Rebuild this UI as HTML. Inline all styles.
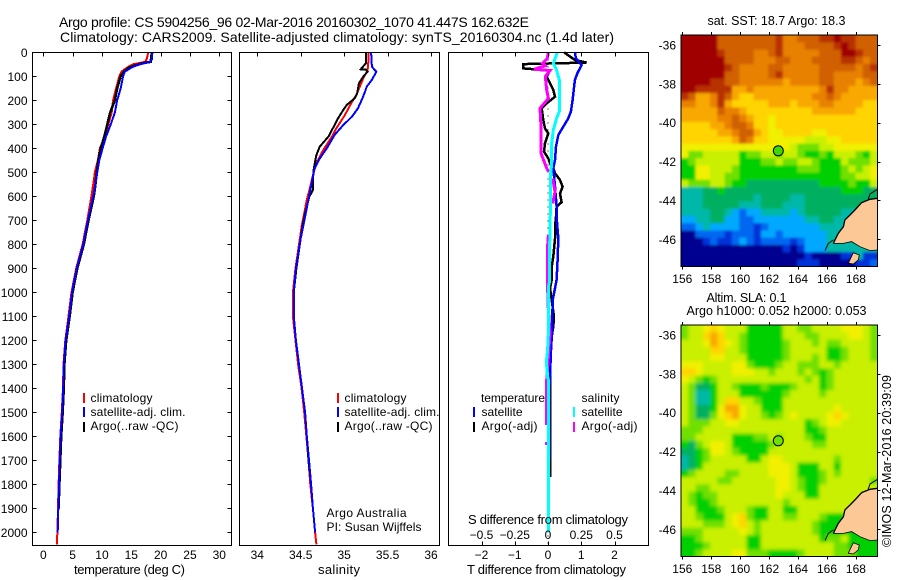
<!DOCTYPE html>
<html>
<head>
<meta charset="utf-8">
<title>Argo profile</title>
<style>
html,body{margin:0;padding:0;background:#fff;}
svg{display:block;}
text{font-family:"Liberation Sans",sans-serif;fill:#000;}
</style>
</head>
<body>
<svg id="chart" xmlns="http://www.w3.org/2000/svg" width="900" height="580" viewBox="0 0 900 580">
<defs>
<filter id="blur-sst" x="-10%" y="-10%" width="120%" height="120%"><feGaussianBlur stdDeviation="1.2"/></filter>
<filter id="blur-sla" x="-10%" y="-10%" width="120%" height="120%"><feGaussianBlur stdDeviation="1.9"/></filter>
<clipPath id="clip-sst"><rect x="681" y="35" width="196.5" height="231.7"/></clipPath>
<clipPath id="clip-sla"><rect x="681" y="325" width="196.5" height="231.7"/></clipPath>
</defs>
<text x="59" y="27" font-size="14" textLength="470">Argo profile: CS 5904256_96 02-Mar-2016 20160302_1070 41.447S 162.632E</text>
<text x="60" y="42" font-size="14" textLength="554">Climatology: CARS2009. Satellite-adjusted climatology: synTS_20160304.nc (1.4d later)</text>

<g id="layer-lines"></g>
<g id="layer-maps"></g>

<rect x="32.5" y="52.5" width="199" height="493" fill="none" stroke="#000" stroke-width="1"/>
<rect x="239.5" y="52.5" width="200" height="493" fill="none" stroke="#000" stroke-width="1"/>
<rect x="448.5" y="52.5" width="200" height="493" fill="none" stroke="#000" stroke-width="1"/>

<text x="74" y="574" font-size="13" textLength="111">temperature (deg C)</text>
<text x="318" y="574" font-size="13" textLength="42">salinity</text>
<text x="467" y="574" font-size="13" textLength="159">T difference from climatology</text>
<text x="468" y="524" font-size="13" textLength="160">S difference from climatology</text>

<g font-size="12">
<rect x="83" y="393" width="2" height="10" fill="#ff0000"/>
<rect x="83" y="407" width="2" height="10" fill="#0000ff"/>
<rect x="83" y="422" width="2" height="10" fill="#000"/>
<text x="90.5" y="402" textLength="62">climatology</text>
<text x="90.5" y="416" textLength="95">satellite-adj. clim.</text>
<text x="90.5" y="430" textLength="88">Argo(..raw -QC)</text>
</g>
<g font-size="12">
<rect x="337" y="393" width="2" height="10" fill="#ff0000"/>
<rect x="337" y="407" width="2" height="10" fill="#0000ff"/>
<rect x="337" y="422" width="2" height="10" fill="#000"/>
<text x="344.5" y="402" textLength="62">climatology</text>
<text x="344.5" y="416" textLength="95">satellite-adj. clim.</text>
<text x="344.5" y="430" textLength="88">Argo(..raw -QC)</text>
<text x="326.5" y="517" textLength="80">Argo Australia</text>
<text x="326.5" y="531" textLength="95">PI: Susan Wijffels</text>
</g>
<g font-size="12">
<text x="481" y="402" textLength="64">temperature</text>
<text x="581.5" y="402" textLength="38">salinity</text>
<rect x="473" y="407" width="2" height="10" fill="#0000ff"/>
<rect x="473" y="422" width="2" height="10" fill="#000"/>
<rect x="573" y="407" width="2" height="10" fill="#00ffff"/>
<rect x="573" y="422" width="2" height="10" fill="#ff00ff"/>
<text x="481.5" y="416" textLength="41">satellite</text>
<text x="481.5" y="430" textLength="56">Argo(-adj)</text>
<text x="581.5" y="416" textLength="41">satellite</text>
<text x="581.5" y="430" textLength="56">Argo(-adj)</text>
</g>

<text x="707.5" y="25" font-size="12.5" textLength="138">sat. SST: 18.7 Argo: 18.3</text>
<text x="706.5" y="302" font-size="12.5" textLength="80">Altim. SLA: 0.1</text>
<text x="686.5" y="315" font-size="12.5" textLength="180">Argo h1000: 0.052 h2000: 0.053</text>
<text transform="translate(891 547) rotate(-90)" font-size="12.5" textLength="172">©IMOS 12-Mar-2016 20:39:09</text>
</svg>

<script>
/* ---------- profile data ---------- */
const depthTicks = [0,100,200,300,400,500,600,700,800,900,1000,1100,1200,1300,1400,1500,1600,1700,1800,1900,2000];
const temperatureTicks = [0,5,10,15,20,25,30];
const salinityTicks = [34,34.5,35,35.5,36];
const tDiffTicks = [-2,-1,0,1,2];
const sDiffTicks = [-0.5,-0.25,0,0.25,0.5];
const sDiffTickLabels = ['\u22120.5','\u22120.25','0','0.25','0.5'];
const lonTicks = [156,158,160,162,164,166,168];
const latTicks = [-36,-38,-40,-42,-44,-46];

const climTempDepth = [0,30,40,50,60,80,100,150,200,250,300,350,400,450,500,550,600,700,800,900,1000,1100,1200,1300,1400,1500,1600,1700,1800,1900,2000,2050];
const climTemp = [17.9,17.6,17.3,15.3,14.5,13.35,12.95,12.4,11.9,11.65,11.1,10.5,9.65,9.3,8.8,8.5,8.2,7.5,6.7,5.6,4.8,4.3,3.75,3.45,3.35,3.15,2.9,2.75,2.6,2.5,2.4,2.3];
const satTempDepth = [0,30,40,50,60,80,100,150,200,250,300,350,400,450,500,550,600,700,800,900,1000,1100,1200,1300,1400,1500,1600,1700,1800,1900,2000];
const satTemp = [18.6,18.5,18.2,16.5,15.3,13.9,13.6,13.2,12.6,12.2,11.5,10.7,10.1,9.55,9.2,8.9,8.5,7.6,6.8,5.7,4.9,4.4,3.8,3.5,3.4,3.2,2.95,2.8,2.67,2.55,2.45];
const argoTempDepth = [0,40,45,55,65,80,100,150,200,250,300,350,400,450,500,550,600,700,800,900,1000,1100,1200,1300,1400,1500,1600,1700,1800,1900];
const argoTemp = [18.5,18.3,17.0,15.6,14.5,13.75,13.2,12.6,12.2,11.4,10.9,10.4,9.8,9.4,9.1,8.9,8.6,7.7,6.9,5.8,5.0,4.5,3.9,3.6,3.5,3.3,3.05,2.9,2.75,2.6];

const climSalDepth = [0,32,74,108,178,219,261,317,351,407,455,497,559,615,671,726,775,900,1000,1100,1200,1300,1400,1500,1600,1700,1800,1900,2000,2050];
const climSal = [35.28,35.28,35.27,35.22,35.14,35.07,35.01,34.91,34.86,34.76,34.69,34.65,34.61,34.57,34.54,34.51,34.49,34.44,34.41,34.41,34.44,34.47,34.51,34.54,34.565,34.59,34.61,34.64,34.665,34.68];
const satSalDepth = [0,60,81,115,143,164,192,233,268,303,344,400,442,483,518,574,629,685,740,775,900,1000,1100,1200,1300,1400,1500,1600,1700,1800,1900,2000];
const satSal = [35.31,35.32,35.37,35.32,35.26,35.24,35.21,35.16,35.09,34.99,34.89,34.80,34.72,34.66,34.64,34.61,34.58,34.55,34.52,34.50,34.445,34.42,34.42,34.445,34.48,34.515,34.55,34.57,34.595,34.62,34.64,34.665];
const argoSalDepth = [0,46,71,72,81,101,129,171,192,219,240,275,310,351,393,428,483,532,574,601,629,671,726,775,900,1000,1100,1200,1300,1400,1500,1600,1700,1800,1900];
const argoSal = [35.25,35.25,35.19,35.25,35.27,35.22,35.17,35.15,35.12,35.03,34.99,34.93,34.88,34.82,34.72,34.68,34.65,34.64,34.64,34.60,34.58,34.55,34.52,34.50,34.45,34.42,34.42,34.445,34.48,34.515,34.55,34.57,34.59,34.62,34.64];

const diffSatTDepth = [0,25,53,88,115,150,199,247,275,310,345,393,449,483,560,643,685,776,865,948,983,1032,1170,1240,1351,1400,2000];
const diffSatT = [0.81,0.84,1.01,0.88,0.81,0.78,0.74,0.69,0.61,0.46,0.31,0.24,0.21,0.16,0.21,0.26,0.26,0.31,0.29,0.26,0.21,0.14,0.12,0.09,0.06,0.04,0.02];
const diffArgoTDepth = [0,32,43,49,67,76,101,129,157,185,213,233,282,317,338,379,414,442,463,483,504,532,560,588,625,643,685,726,776,851,893,948,983,1032,1101,1143,1185,1300,1770];
const diffArgoT = [0.48,0.81,1.16,-0.74,-0.74,0.06,-0.04,0.06,0.16,0.21,-0.04,-0.19,-0.14,-0.09,0.01,-0.09,-0.12,0.01,0.06,0.16,0.21,0.36,0.44,0.36,0.41,0.26,0.24,0.21,0.21,0.16,0.11,0.11,0.06,0.11,0.18,0.16,0.11,0.06,0.06];
const diffSatSDepth = [0,46,74,115,247,275,324,379,463,504,782,795,960,980,1170,1240,1290,1345,1366,2000];
const diffSatS = [0.07,0.04,0.065,0.085,0.085,0.065,0.04,0.028,0.028,0.02,0.015,0.01,0.01,0.003,0.003,-0.003,-0.012,-0.005,0.003,0.003];
const diffArgoSDepth = [0,25,46,56,71,76,101,157,192,233,310,421,483,497,null,525,581,630,null,760,810,970,1050,1170,1270,1366,1552,null,1624,1636];
const diffArgoS = [0.003,-0.005,-0.04,-0.02,-0.105,0.015,-0.02,-0.01,0.003,-0.06,-0.053,-0.053,-0.01,0.003,null,0.035,0.053,0.035,null,0.003,-0.003,-0.003,0,0.015,0.003,-0.01,-0.01,null,-0.01,-0.01];
const zeroLineDepth = [0,2054];
const zeroLineT = [0,0];

/* ---------- map data: colour-level grids (0 cold/low ... 15 warm/high, 16 land) ---------- */
const mapColumns = 27;
const sstLevels = [
[15,15,15,15,15,13,13,13,13,13,13,13,13,14,12,12,13,13,13,14,14,15,14,14,13,13,13],
[15,15,15,15,15,13,13,13,13,13,13,13,13,14,12,12,12,13,13,13,13,14,15,14,13,13,13],
[15,15,15,15,15,14,13,13,13,13,12,12,13,14,12,12,12,12,12,13,13,13,15,15,14,13,13],
[15,15,15,15,15,15,13,13,13,13,12,12,12,13,13,12,12,12,13,13,13,13,14,14,13,12,13],
[15,15,15,15,15,15,14,13,12,12,12,12,13,13,12,12,12,12,12,13,13,13,13,13,12,13,14],
[15,15,15,15,15,15,13,13,12,12,12,12,13,14,12,12,12,12,12,13,13,12,12,12,12,13,13],
[15,15,15,15,14,14,13,13,12,12,12,12,12,12,11,12,12,12,12,13,13,12,12,12,11,12,13],
[15,15,14,14,14,14,14,11,11,12,11,11,11,11,11,11,11,11,11,12,14,12,12,11,11,11,11],
[14,13,11,11,12,14,13,11,10,10,11,11,11,11,11,11,11,11,12,12,13,12,11,11,11,11,11],
[12,12,11,11,12,14,11,10,10,10,10,10,11,11,11,10,11,11,11,12,12,11,11,11,11,10,10],
[11,11,11,11,11,13,12,12,11,10,10,10,10,10,10,10,10,10,11,11,11,11,11,11,10,10,10],
[11,11,11,11,11,12,12,13,12,11,10,10,9,10,10,10,10,10,10,10,10,10,10,10,10,10,10],
[10,10,10,10,11,11,12,13,13,12,10,10,9,10,10,10,10,10,10,10,10,10,10,10,10,10,10],
[10,10,10,10,10,11,11,12,13,13,11,10,9,9,10,10,10,10,9,9,10,10,10,10,10,10,10],
[10,10,10,10,10,10,10,11,13,12,10,10,9,9,9,9,9,8,8,8,9,9,10,10,10,10,10],
[9,9,9,9,9,9,9,9,9,9,9,9,9,9,9,8,7,7,7,8,8,9,9,9,9,9,9],
[9,7,7,8,8,8,8,8,6,7,7,8,8,7,8,8,7,6,6,7,6,8,8,8,7,6,8],
[6,7,8,8,8,8,8,8,6,6,6,7,7,8,7,7,8,8,7,6,6,6,8,7,7,7,8],
[6,6,9,9,8,8,8,7,6,6,6,6,6,6,6,6,7,7,7,6,6,6,7,8,7,8,9],
[6,6,9,9,8,8,7,7,6,6,6,6,6,6,6,6,6,6,6,6,6,6,7,7,8,8,9],
[8,7,7,7,8,8,7,6,6,5,5,5,5,5,5,5,5,5,5,6,6,6,6,7,6,6,8],
[4,4,4,5,5,6,5,5,5,5,5,5,5,5,5,5,5,5,5,5,5,5,6,6,6,5,5],
[4,4,4,5,5,5,5,5,5,5,4,5,5,5,5,4,4,5,5,5,5,5,5,5,5,5,5],
[4,4,4,5,5,5,5,5,4,4,4,5,5,5,4,4,4,5,5,5,5,5,5,5,5,16,16],
[4,4,4,4,5,5,4,3,2,3,3,4,4,4,4,3,4,5,5,5,5,5,4,16,16,16,16],
[3,3,4,4,5,5,3,3,2,2,3,3,3,3,3,3,3,4,4,5,5,4,16,16,16,16,16],
[2,2,3,4,3,3,3,3,2,2,1,2,3,3,3,3,3,3,3,4,4,16,16,16,16,16,16],
[0,0,2,2,2,2,1,2,2,2,1,3,3,2,3,3,3,3,3,3,4,16,16,16,16,16,16],
[0,0,0,1,2,1,1,2,3,2,1,2,2,2,2,1,2,3,3,3,4,16,16,16,16,16,16],
[0,0,0,0,0,0,0,0,0,0,0,0,0,0,1,0,1,3,3,3,4,4,4,4,4,4,16],
[0,0,0,0,0,0,0,0,0,0,0,0,0,0,0,0,0,1,0,0,0,0,1,16,4,1,1],
[0,0,0,0,0,0,0,0,0,0,0,0,0,0,0,0,1,1,1,0,0,0,0,16,1,1,2]
];
const slaLevels = [
[7,8,8,9,10,9,8,8,8,6,6,6,6,6,8,8,7,7,8,8,8,8,9,9,9,8,7],
[7,8,8,10,11,10,8,8,7,6,6,6,6,6,8,8,8,7,7,8,8,8,8,9,9,8,7],
[8,8,8,9,11,10,9,8,7,6,6,6,6,6,7,8,8,8,7,8,7,7,8,8,8,8,7],
[8,8,8,8,10,10,8,8,7,6,6,6,6,6,7,8,8,8,8,8,6,6,7,8,8,8,7],
[8,8,8,8,9,9,8,8,8,6,6,6,6,6,7,8,8,8,7,8,6,6,7,8,8,8,7],
[9,9,9,8,8,8,8,9,9,7,6,6,6,7,8,8,7,7,7,8,8,7,8,8,8,8,8],
[10,10,9,8,8,8,8,9,9,9,8,8,7,8,8,8,7,8,7,6,7,8,8,8,8,8,8],
[9,8,7,6,7,8,8,8,8,8,8,8,8,8,8,8,8,7,8,6,7,8,8,8,8,8,8],
[8,7,5,5,6,8,8,7,6,6,6,7,6,6,6,7,8,8,8,6,7,8,8,8,8,8,8],
[8,7,4,4,6,8,8,8,6,6,6,6,6,6,7,8,8,8,8,7,8,8,8,8,8,8,8],
[8,7,4,4,6,8,10,10,8,8,7,6,6,6,8,8,8,8,8,8,8,8,8,8,8,8,8],
[8,7,5,5,6,9,11,11,9,8,8,6,6,6,8,8,8,8,8,8,8,9,8,8,8,8,8],
[8,7,5,5,7,9,10,11,9,8,8,7,6,7,8,9,8,8,8,8,9,10,9,8,8,8,8],
[8,7,7,7,8,8,9,9,8,8,8,8,8,8,8,8,8,6,7,8,9,9,8,8,8,8,8],
[7,7,7,8,8,8,8,8,8,8,8,8,8,8,8,8,8,6,6,7,8,8,8,8,8,8,8],
[7,7,8,8,8,8,8,6,6,6,7,7,8,7,8,8,8,7,6,6,8,8,8,8,8,8,8],
[6,5,7,8,9,9,8,6,6,6,6,6,7,8,8,8,8,8,7,7,8,8,8,8,8,8,8],
[5,5,6,7,9,9,8,7,6,6,6,6,8,8,8,8,8,8,8,8,8,8,8,8,8,8,8],
[4,5,6,7,8,8,8,8,8,6,6,8,9,9,8,8,8,8,8,8,8,7,8,8,8,8,8],
[4,5,6,8,8,8,8,8,8,8,8,8,9,9,9,8,6,6,6,8,8,6,8,8,8,8,8],
[6,7,8,8,8,8,7,7,8,8,8,8,9,9,9,8,6,6,6,7,8,7,8,8,8,8,8],
[8,8,8,8,8,7,7,8,8,8,8,8,8,9,9,8,7,6,6,7,8,8,8,8,8,8,7],
[8,8,7,7,8,8,8,8,8,8,8,8,8,9,9,8,7,6,6,8,8,8,8,8,8,16,16],
[8,7,6,7,7,8,8,8,8,8,8,8,8,9,8,8,8,6,6,8,8,8,8,8,16,16,16],
[8,7,6,6,7,8,8,8,8,8,8,8,8,8,7,8,8,8,8,8,8,8,16,16,16,16,16],
[8,8,6,6,6,7,8,8,8,7,6,6,8,8,6,6,8,8,8,8,8,16,16,16,16,16,16],
[8,8,7,6,6,6,8,9,10,7,6,6,8,8,7,7,8,8,8,7,6,16,16,16,16,16,16],
[8,8,8,7,7,7,8,9,10,8,7,8,8,8,8,8,8,8,7,6,6,16,16,16,16,16,16],
[7,7,7,8,8,8,8,8,9,8,7,8,8,8,8,8,8,8,7,6,6,16,16,16,16,16,16],
[6,6,7,8,8,8,8,8,8,6,6,8,8,8,8,8,8,8,8,6,7,7,8,6,6,6,16],
[6,6,6,7,8,8,8,8,8,6,6,8,8,8,8,8,8,8,8,8,8,7,7,6,16,6,6],
[6,6,7,8,8,8,8,9,9,7,7,7,6,6,6,6,7,8,8,8,8,7,7,16,6,6,6]
];
const levelColors = ['#000090','#0030d8','#0068f0','#00a8ff','#00b8a8','#00b060','#00d000','#70e000','#c8f000','#f0f000','#ffd400','#f8a800','#e88000','#d06000','#b83000','#a00000','#fcc896'];

const landLon = [169.48,168.97,168.4,167.93,167.59,167.24,167.13,166.78,166.55,166.44,167.13,167.7,168.28,168.97,169.48];
const landLat = [-43.89,-43.94,-44.11,-44.49,-44.75,-45.0,-45.35,-45.69,-46.03,-46.21,-46.21,-46.12,-46.38,-46.58,-46.55];
const islandLon = [167.82,168.23,168.16,167.82,167.47];
const islandLat = [-46.69,-46.81,-47.06,-47.27,-47.23];
const shelfLon = [169.48,168.97,168.85];
const shelfLat = [-43.43,-43.67,-43.94];
const spitLon = [165.86,166.09,166.44];
const spitLat = [-46.58,-46.21,-46.03];
const floatLon = 162.632;
const floatLat = -41.447;

/* ---------- axis functions ---------- */
const NS = 'http://www.w3.org/2000/svg';
const depthY = d => 52.3 + 0.24 * d;
const tempX = t => 43.3 + 5.867 * t;
const salX = s => 257.3 + 86.85 * (s - 34);
const tDiffX = t => 548 + 33.25 * t;
const sDiffX = s => 548 + 133 * s;
const lonX = lon => 682.3 + 14.47 * (lon - 156);
const latY = (lat, top) => top + 10 + 19.43 * (-36 - lat);

function mk(parent, tag, attrs, txt) {
  const el = document.createElementNS(NS, tag);
  for (const k in attrs) el.setAttribute(k, attrs[k]);
  if (txt !== undefined) el.textContent = txt;
  parent.appendChild(el);
  return el;
}
function linePath(xs, ys) {
  let p = '', pen = false;
  for (let i = 0; i < xs.length; i++) {
    if (xs[i] === null || ys[i] === null) { pen = false; continue; }
    p += (pen ? 'L' : 'M') + xs[i].toFixed(1) + ' ' + ys[i].toFixed(1);
    pen = true;
  }
  return p;
}

const linesLayer = document.getElementById('layer-lines');
const mapsLayer = document.getElementById('layer-maps');

function drawProfile(name, depths, values, xFn, color, width, dash) {
  const ds = values.map(v => v === null ? null : xFn(v));
  const ys = depths.map(d => d === null ? null : depthY(d));
  const el = mk(linesLayer, 'path', {d: linePath(ds, ys), fill: 'none', stroke: color, 'stroke-width': width, 'shape-rendering': 'crispEdges'});
  if (dash) el.setAttribute('stroke-dasharray', dash);
  
  
}

drawProfile('temperature-climatology-line', climTempDepth, climTemp, tempX, '#ff0000', 2);
drawProfile('temperature-argo-line', argoTempDepth, argoTemp, tempX, '#000000', 2.5);
drawProfile('temperature-satellite-line', satTempDepth, satTemp, tempX, '#0000ff', 2);

drawProfile('salinity-climatology-line', climSalDepth, climSal, salX, '#ff0000', 2);
drawProfile('salinity-argo-line', argoSalDepth, argoSal, salX, '#000000', 2);
drawProfile('salinity-satellite-line', satSalDepth, satSal, salX, '#0000ff', 2);

drawProfile('zero-difference-line', zeroLineDepth, zeroLineT, tDiffX, '#000000', 1, '1 6');
drawProfile('t-difference-argo-line', diffArgoTDepth, diffArgoT, tDiffX, '#000000', 2.5);
drawProfile('t-difference-satellite-line', diffSatTDepth, diffSatT, tDiffX, '#0000ff', 2.5);
drawProfile('s-difference-argo-line', diffArgoSDepth, diffArgoS, sDiffX, '#ff00ff', 3);
drawProfile('s-difference-satellite-line', diffSatSDepth, diffSatS, sDiffX, '#00ffff', 3);

/* ---------- ticks and tick labels ---------- */
const PANEL_TOP = 52.5, PANEL_BOTTOM = 545.5;

function tick(parent, name, x1, y1, x2, y2) {
  const t = mk(parent, 'line', {x1: x1, y1: y1, x2: x2, y2: y2, stroke: '#000', 'stroke-width': 1, 'shape-rendering': 'crispEdges'});
  
  
}
function label(parent, name, x, y, anchor, str) {
  const t = mk(parent, 'text', {x: x, y: y, 'text-anchor': anchor, 'font-size': 12}, str);
  
  
}
const px = v => Math.round(v) + 0.5;

depthTicks.forEach(d => {
  const y = px(depthY(d));
  tick(linesLayer, 'depth-tick-left', 32.5, y, 36.5, y);
  tick(linesLayer, 'depth-tick-right', 227.5, y, 231.5, y);
  label(linesLayer, 'depth-tick-label', 27.5, depthY(d) + 4.5, 'end', String(d));
});
temperatureTicks.forEach(t => {
  const x = px(tempX(t));
  tick(linesLayer, 'temperature-tick-top', x, PANEL_TOP, x, PANEL_TOP + 4);
  label(linesLayer, 'temperature-tick-label', tempX(t), 559, 'middle', String(t));
});
salinityTicks.forEach(s => {
  const x = px(salX(s));
  tick(linesLayer, 'salinity-tick-top', x, PANEL_TOP, x, PANEL_TOP + 4);
  label(linesLayer, 'salinity-tick-label', salX(s), 559, 'middle', String(s));
});
tDiffTicks.forEach(t => {
  const x = px(tDiffX(t));
  tick(linesLayer, 't-difference-tick-top', x, PANEL_TOP, x, PANEL_TOP + 4);
  tick(linesLayer, 't-difference-tick-bottom', x, PANEL_BOTTOM - 4, x, PANEL_BOTTOM);
  label(linesLayer, 't-difference-tick-label', tDiffX(t), 559, 'middle', String(t).replace('-', '\u2212'));
});
sDiffTicks.forEach((s, i) => {
  label(linesLayer, 's-difference-tick-label', sDiffX(s), 539, 'middle', sDiffTickLabels[i]);
});

/* ---------- maps ---------- */
const mapLeftLon = 155.91, mapRightLon = 169.48;
const mapCellLon = (mapRightLon - mapLeftLon) / mapColumns;
const mapCellLat = 11.92 / 32;

function drawMap(prefix, grid, top, markerColor) {
  const g = mk(mapsLayer, 'g', {});
  
  
  const clip = mk(g, 'g', {'clip-path': 'url(#clip-' + prefix + ')'});
  
  
  const field = mk(clip, 'g', {filter: 'url(#blur-' + prefix + ')'});
  
  
  grid.forEach((row, r) => {
    let lastSea = 0;
    row.forEach((level, c) => {
      if (level !== 16) lastSea = level;
      const lon = mapLeftLon + c * mapCellLon;
      const lat = -35.49 - r * mapCellLat;
      let x = lonX(lon), y = latY(lat, top);
      let w = 14.47 * mapCellLon + 0.6, h = 19.43 * mapCellLat + 0.6;
      if (c === 0) { x -= 12; w += 12; }
      if (c === row.length - 1) w += 12;
      if (r === 0) { y -= 12; h += 12; }
      if (r === grid.length - 1) h += 12;
      const cell = mk(field, 'rect', {x: x.toFixed(2), y: y.toFixed(2), width: w.toFixed(2), height: h.toFixed(2), fill: levelColors[lastSea]});
      
      
    });
  });
  const land = mk(clip, 'polygon', {points: landLon.map((v, i) => lonX(v).toFixed(1) + ',' + latY(landLat[i], top).toFixed(1)).join(' '), fill: levelColors[16]});
  
  
  const coast = mk(clip, 'path', {d: linePath(landLon.slice(0, 10).map(lonX), landLat.slice(0, 10).map(v => latY(v, top))), fill: 'none', stroke: '#000', 'stroke-width': 1.3});
  
  
  const south = mk(clip, 'path', {d: linePath(landLon.slice(9).map(lonX), landLat.slice(9).map(v => latY(v, top))), fill: 'none', stroke: '#000', 'stroke-width': 0.8});
  
  
  const island = mk(clip, 'polygon', {points: islandLon.map((v, i) => lonX(v).toFixed(1) + ',' + latY(islandLat[i], top).toFixed(1)).join(' '), fill: levelColors[16], stroke: '#000', 'stroke-width': 0.8});
  
  
  const shelf = mk(clip, 'path', {d: linePath(shelfLon.map(lonX), shelfLat.map(v => latY(v, top))), fill: 'none', stroke: '#000', 'stroke-width': 1});
  
  
  const spit = mk(clip, 'path', {d: linePath(spitLon.map(lonX), spitLat.map(v => latY(v, top))), fill: 'none', stroke: '#000', 'stroke-width': 1});
  
  

  const bottom = top + 231.7;
  const frame = mk(g, 'rect', {x: 681, y: top, width: 196.5, height: 231.7, fill: 'none', stroke: '#000', 'stroke-width': 1, 'shape-rendering': 'crispEdges'});
  
  

  lonTicks.forEach(lon => {
    const x = px(lonX(lon));
    tick(g, prefix + '-lon-tick', x, top - 3, x, top);
    tick(g, prefix + '-lon-tick', x, bottom, x, bottom + 3);
    label(g, prefix + '-lon-label', lonX(lon), bottom + 16.5, 'middle', String(lon));
  });
  latTicks.forEach(lat => {
    const y = px(latY(lat, top));
    tick(g, prefix + '-lat-tick', 877.5, y, 880.5, y);
    label(g, prefix + '-lat-label', 676, latY(lat, top) + 4.5, 'end', String(lat));
  });
  const m = mk(g, 'circle', {cx: lonX(floatLon).toFixed(1), cy: latY(floatLat, top).toFixed(1), r: 5, fill: markerColor, stroke: '#000', 'stroke-width': 1});
  
  
}
drawMap('sst', sstLevels, 35, '#40d800');
drawMap('sla', slaLevels, 325, '#70e000');
</script>
</body>
</html>
